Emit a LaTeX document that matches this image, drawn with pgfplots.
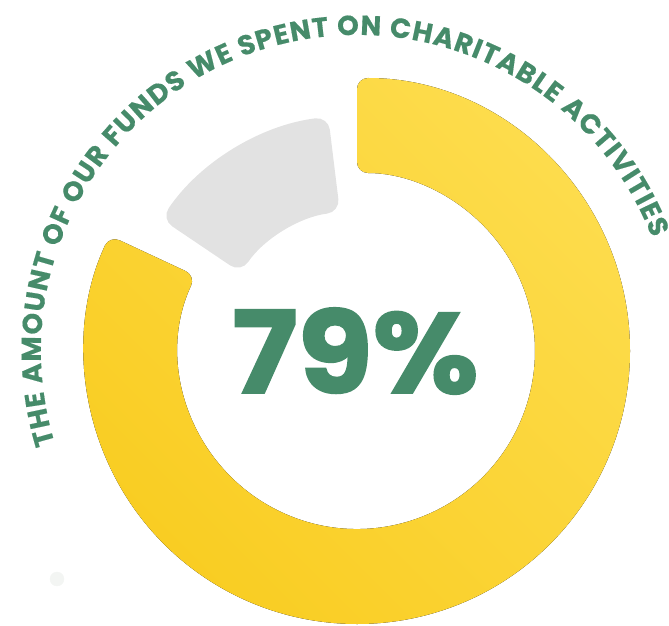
\documentclass[border=0pt]{standalone}
\usepackage{pgfplots}
\pgfplotsset{compat=1.18}
\usepackage{pgfplotstable}
\usepackage{fontspec}
\setmainfont{Poppins}
\newfontfamily\heavy{Poppins}[UprightFeatures={FakeBold=1.6},BoldFeatures={FakeBold=1.6}]
\newfontfamily\arcfont{Poppins}[BoldFeatures={FakeBold=0.4}]
\usetikzlibrary{decorations.text,calc}
\definecolor{ggreen}{RGB}{70,139,106}
\definecolor{ylight}{RGB}{253,220,76}
\definecolor{ydark}{RGB}{249,205,34}
\definecolor{lgray}{RGB}{226,226,226}
\definecolor{dotgray}{RGB}{243,245,243}

% donut segments: value, start/end angle (deg), inner/outer radius (px)
\pgfplotstableread{
label value start end rin rout
spent 79 90 -205 178 273
rest 21 146 97 140 236
}\donut
\pgfplotstablegetelem{0}{start}\of\donut \let\sA\pgfplotsretval
\pgfplotstablegetelem{0}{end}\of\donut \let\eA\pgfplotsretval
\pgfplotstablegetelem{0}{rin}\of\donut \let\iA\pgfplotsretval
\pgfplotstablegetelem{0}{rout}\of\donut \let\oA\pgfplotsretval
\pgfplotstablegetelem{0}{value}\of\donut \let\vA\pgfplotsretval
\pgfplotstablegetelem{1}{start}\of\donut \let\sB\pgfplotsretval
\pgfplotstablegetelem{1}{end}\of\donut \let\eB\pgfplotsretval
\pgfplotstablegetelem{1}{rin}\of\donut \let\iB\pgfplotsretval
\pgfplotstablegetelem{1}{rout}\of\donut \let\oB\pgfplotsretval

\begin{document}
\begin{tikzpicture}
\begin{axis}[hide axis, scale only axis, width=669pt, height=625pt,
  xmin=0, xmax=669, ymin=0, ymax=625, clip=true]
\addplot[only marks, mark=*, mark size=7pt, color=dotgray] coordinates {(57,46)};
% yellow segment
\fill[rounded corners=11pt, top color=ylight, bottom color=ydark, shading angle=-45]
  (axis cs:357,274) ++(\sA:\oA pt) arc[start angle=\sA, end angle=\eA, radius=\oA pt]
  -- ($(axis cs:357,274)+(\eA:\iA pt)$) arc[start angle=\eA, end angle=\sA, radius=\iA pt] -- cycle;
% gray segment
\fill[rounded corners=13pt, lgray]
  (axis cs:357,274) ++(\sB:\oB pt) arc[start angle=\sB, end angle=\eB, radius=\oB pt]
  -- ($(axis cs:357,274)+(\eB:\iB pt)$) arc[start angle=\eB, end angle=\sB, radius=\iB pt] -- cycle;
\node[font=\heavy\fontsize{114}{114}\selectfont\bfseries, text=ggreen, anchor=base, inner sep=0pt, xscale=1.07]
  at (axis cs:355.5,232) {\vA\%};
\path[decorate, decoration={text along path, text align={fit to path},
  text={|\arcfont\fontsize{27.5}{28}\selectfont\bfseries\color{ggreen}|THE AMOUNT OF OUR FUNDS WE SPENT ON CHARITABLE ACTIVITIES}}]
  (axis cs:357,274) ++(197:316pt) arc[start angle=197, end angle=21, radius=316pt];
\end{axis}
\pgfresetboundingbox
\useasboundingbox (current axis.south west) rectangle (current axis.north east);
\end{tikzpicture}
\end{document}
